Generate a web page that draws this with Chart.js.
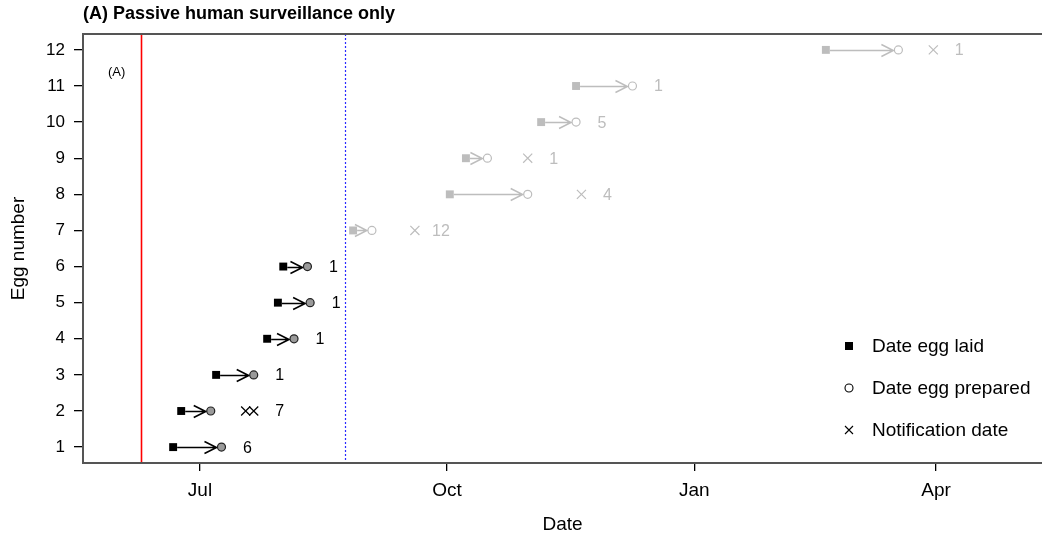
<!DOCTYPE html>
<html>
<head>
<meta charset="utf-8">
<script src="https://cdn.jsdelivr.net/npm/chart.js@4"></script>
<style>
  html, body { margin: 0; padding: 0; background: #fff; }
  canvas { display: block; }
</style>
</head>
<body>
<canvas id="eggChart" width="1042" height="538"></canvas>
<script>
// data
const eggNumbers = [1, 2, 3, 4, 5, 6, 7, 8, 9, 10, 11, 12];
const dateLaid = ['2016-06-21', '2016-06-24', '2016-07-07', '2016-07-26', '2016-07-30', '2016-08-01',
                  '2016-08-27', '2016-10-02', '2016-10-08', '2016-11-05', '2016-11-18', '2017-02-19'];
const datePrepared = ['2016-07-09', '2016-07-05', '2016-07-21', '2016-08-05', '2016-08-11', '2016-08-10',
                      '2016-09-03', '2016-10-31', '2016-10-16', '2016-11-18', '2016-12-09', '2017-03-18'];
const notificationDates = [[], ['2016-07-18', '2016-07-21'], [], [], [], [],
                           ['2016-09-19'], ['2016-11-20'], ['2016-10-31'], [], [], ['2017-03-31']];
const eggCounts = [6, 7, 1, 1, 1, 1, 12, 4, 1, 5, 1, 1];
const detectedEarly = [true, true, true, true, true, true, false, false, false, false, false, false];
const tickDates = ['2016-07-01', '2016-10-01', '2017-01-01', '2017-04-01'];
const tickLabels = ['Jul', 'Oct', 'Jan', 'Apr'];
const redLineDate = '2016-06-09';
const blueLineDate = '2016-08-24';

// days since 1 Jul 2016
const origin = Date.UTC(2016, 6, 1);
function toDay(s) {
    const p = s.split('-').map(Number);
    return (Date.UTC(p[0], p[1] - 1, p[2]) - origin) / 86400000;
}
const tickDays = tickDates.map(toDay);

const BLACK = '#000000';
const GREY = '#bdbdbd';
const FONT = '"Liberation Sans", Arial, sans-serif';

const laidPoints = eggNumbers.map((e, i) => ({ x: toDay(dateLaid[i]), y: e }));
const prepPoints = eggNumbers.map((e, i) => ({ x: toDay(datePrepared[i]), y: e }));
const notifPoints = [];
const notifColors = [];
notificationDates.forEach((list, i) => {
    list.forEach(d => {
        notifPoints.push({ x: toDay(d), y: eggNumbers[i] });
        notifColors.push(detectedEarly[i] ? BLACK : GREY);
    });
});

// arrows, reference lines, count labels
const annotations = {
    id: 'annotations',
    beforeDatasetsDraw(chart) {
        const { ctx, chartArea, scales: { x, y } } = chart;
        ctx.save();
        // red solid line
        const rx = Math.round(x.getPixelForValue(toDay(redLineDate))) + 0.5;
        ctx.strokeStyle = '#ff0000';
        ctx.lineWidth = 1.6;
        ctx.beginPath();
        ctx.moveTo(rx, chartArea.top);
        ctx.lineTo(rx, chartArea.bottom);
        ctx.stroke();
        // blue dotted line
        const bx = Math.round(x.getPixelForValue(toDay(blueLineDate))) + 0.5;
        ctx.strokeStyle = '#2a2aff';
        ctx.lineWidth = 1.2;
        ctx.setLineDash([2, 2]);
        ctx.beginPath();
        ctx.moveTo(bx, chartArea.top);
        ctx.lineTo(bx, chartArea.bottom);
        ctx.stroke();
        ctx.setLineDash([]);

        // arrows laid -> prepared
        eggNumbers.forEach((e, i) => {
            const x0 = x.getPixelForValue(toDay(dateLaid[i])) + 4;
            const x1 = x.getPixelForValue(toDay(datePrepared[i])) - 5;
            const py = Math.round(y.getPixelForValue(e)) + 0.5;
            ctx.strokeStyle = detectedEarly[i] ? BLACK : GREY;
            ctx.lineWidth = detectedEarly[i] ? 1.6 : 1.4;
            ctx.beginPath();
            ctx.moveTo(x0, py);
            ctx.lineTo(x1, py);
            ctx.moveTo(x1 - 12, py - 6);
            ctx.lineTo(x1, py);
            ctx.lineTo(x1 - 12, py + 6);
            ctx.stroke();
        });
        ctx.restore();
    },
    afterDatasetsDraw(chart) {
        const { ctx, scales: { x, y } } = chart;
        ctx.save();
        ctx.font = '16px ' + FONT;
        ctx.textAlign = 'center';
        ctx.textBaseline = 'middle';
        eggNumbers.forEach((e, i) => {
            const days = [toDay(datePrepared[i])].concat(notificationDates[i].map(toDay));
            const last = Math.max.apply(null, days);
            ctx.fillStyle = detectedEarly[i] ? BLACK : GREY;
            ctx.fillText(String(eggCounts[i]), x.getPixelForValue(last) + 26, y.getPixelForValue(e) + 1);
        });
        ctx.restore();
    }
};

// frame, titles, legend
const frame = {
    id: 'frame',
    afterDraw(chart) {
        const { ctx, chartArea: a } = chart;
        ctx.save();
        ctx.strokeStyle = '#555555';
        ctx.lineWidth = 2;
        ctx.beginPath();
        ctx.moveTo(a.right + 4, a.top);
        ctx.lineTo(a.left, a.top);
        ctx.lineTo(a.left, a.bottom);
        ctx.lineTo(a.right + 4, a.bottom);
        ctx.stroke();

        ctx.fillStyle = BLACK;
        ctx.textBaseline = 'middle';
        ctx.font = 'bold 18px ' + FONT;
        ctx.textAlign = 'left';
        ctx.fillText('(A) Passive human surveillance only', a.left, 14);

        ctx.font = '13px ' + FONT;
        ctx.fillText('(A)', 108, 72);

        ctx.font = '19px ' + FONT;
        ctx.textAlign = 'center';
        ctx.fillText('Date', (a.left + a.right) / 2, 525);
        ctx.save();
        ctx.translate(19, (a.top + a.bottom) / 2);
        ctx.rotate(-Math.PI / 2);
        ctx.fillText('Egg number', 0, 0);
        ctx.restore();

        // legend
        const lx = 849, ly = [346, 388, 430];
        ctx.fillStyle = BLACK;
        ctx.fillRect(lx - 4, ly[0] - 4, 8, 8);
        ctx.strokeStyle = BLACK;
        ctx.lineWidth = 1.1;
        ctx.beginPath();
        ctx.arc(lx, ly[1], 4, 0, Math.PI * 2);
        ctx.stroke();
        ctx.beginPath();
        ctx.moveTo(lx - 4, ly[2] - 4); ctx.lineTo(lx + 4, ly[2] + 4);
        ctx.moveTo(lx + 4, ly[2] - 4); ctx.lineTo(lx - 4, ly[2] + 4);
        ctx.stroke();
        ctx.textAlign = 'left';
        ctx.font = '19px ' + FONT;
        ['Date egg laid', 'Date egg prepared', 'Notification date'].forEach((t, k) => {
            ctx.fillText(t, 872, ly[k] + 1);
        });
        ctx.restore();
    }
};

const pxPerDay = (936 - 200) / (tickDays[3] - tickDays[0]);

new Chart(document.getElementById('eggChart'), {
    type: 'scatter',
    data: {
        datasets: [
            {
                label: 'Date egg laid',
                data: laidPoints,
                pointStyle: 'rect',
                pointRadius: 5.6,
                backgroundColor: eggNumbers.map((e, i) => detectedEarly[i] ? BLACK : GREY),
                borderColor: eggNumbers.map((e, i) => detectedEarly[i] ? BLACK : GREY),
                borderWidth: 0
            },
            {
                label: 'Date egg prepared',
                data: prepPoints,
                pointStyle: 'circle',
                pointRadius: 4,
                backgroundColor: eggNumbers.map((e, i) => detectedEarly[i] ? '#9a9a9a' : '#ffffff'),
                borderColor: eggNumbers.map((e, i) => detectedEarly[i] ? '#222222' : GREY),
                borderWidth: 1.2
            },
            {
                label: 'Notification date',
                data: notifPoints,
                pointStyle: 'crossRot',
                pointRadius: 6.4,
                borderColor: notifColors,
                backgroundColor: notifColors,
                borderWidth: 1.2
            }
        ]
    },
    options: {
        responsive: false,
        animation: false,
        events: [],
        layout: { autoPadding: false, padding: { top: 34, left: 0, right: 0, bottom: 0 } },
        plugins: { legend: { display: false }, tooltip: { enabled: false } },
        scales: {
            x: {
                type: 'linear',
                min: -117 / pxPerDay,
                max: 842 / pxPerDay,
                afterBuildTicks: s => { s.ticks = tickDays.map(v => ({ value: v })); },
                afterFit: s => { s.height = 75; s.paddingLeft = 0; s.paddingRight = 0; },
                border: { display: false },
                grid: { drawOnChartArea: false, drawTicks: true, tickLength: 8, color: '#000', lineWidth: 1.3 },
                ticks: {
                    autoSkip: false, maxRotation: 0, padding: 8, color: BLACK,
                    font: { size: 19, family: FONT },
                    callback: v => tickLabels[tickDays.indexOf(v)]
                }
            },
            y: {
                type: 'linear',
                min: 0.56,
                max: 12.44,
                afterBuildTicks: s => { s.ticks = eggNumbers.map(v => ({ value: v })); },
                afterFit: s => { s.width = 83; },
                border: { display: false },
                grid: { drawOnChartArea: false, drawTicks: true, tickLength: 9, color: '#000', lineWidth: 1.3 },
                ticks: {
                    autoSkip: false, padding: 9, color: BLACK,
                    font: { size: 17, family: FONT },
                    callback: v => String(v)
                }
            }
        }
    },
    plugins: [annotations, frame]
});
</script>
</body>
</html>
